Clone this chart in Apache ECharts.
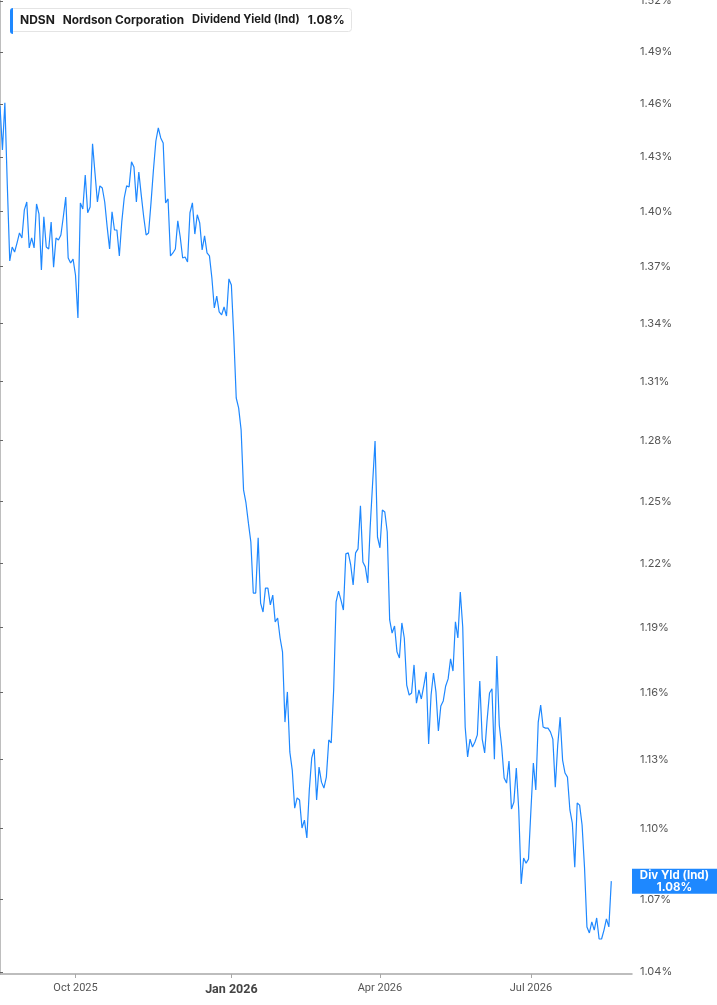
<!DOCTYPE html>
<html>
<head>
<meta charset="utf-8">
<script src="https://cdn.jsdelivr.net/npm/echarts@6/dist/echarts.min.js"></script>
<style>
  html, body { margin: 0; padding: 0; background: #fff; }
  #chart { width: 717px; height: 1005px; }
</style>
</head>
<body>
<div id="chart"></div>
<script>
// daily dividend yield (%), one value per trading day
const values = [
  1.4590, 1.4340, 1.4606, 1.4145, 1.3731, 1.3806, 1.3779, 1.3828, 1.3882, 1.3855,
  1.4008, 1.4051, 1.3801, 1.3855, 1.3801, 1.4040, 1.3986, 1.3683, 1.3970, 1.3806,
  1.3795, 1.3942, 1.3698, 1.3855, 1.3844, 1.3871, 1.3970, 1.4078, 1.3747, 1.3720,
  1.3741, 1.3656, 1.3429, 1.4046, 1.4013, 1.4200, 1.3992, 1.4024, 1.4374, 1.4211,
  1.4051, 1.4140, 1.4128, 1.4051, 1.3915, 1.3795, 1.3997, 1.3898, 1.3898, 1.3758,
  1.3942, 1.4073, 1.4140, 1.4134, 1.4273, 1.4245, 1.4051, 1.4217, 1.4089, 1.3970,
  1.3871, 1.3882, 1.4046, 1.4228, 1.4390, 1.4464, 1.4407, 1.4379, 1.4046, 1.4068,
  1.3758, 1.3774, 1.3795, 1.3948, 1.3860, 1.3747, 1.3752, 1.3725, 1.3992, 1.4046,
  1.3876, 1.3981, 1.3937, 1.3790, 1.3866, 1.3774, 1.3758, 1.3640, 1.3481, 1.3544,
  1.3460, 1.3445, 1.3486, 1.3439, 1.3635, 1.3603, 1.3330, 1.3015, 1.2964, 1.2854,
  1.2556, 1.2492, 1.2394, 1.2303, 1.2060, 1.2060, 1.2323, 1.2013, 1.1971, 1.2083,
  1.2083, 1.2004, 1.2050, 1.1925, 1.1943, 1.1850, 1.1786, 1.1467, 1.1603, 1.1334,
  1.1254, 1.1088, 1.1132, 1.1123, 1.1002, 1.1036, 1.0959, 1.1167, 1.1308, 1.1347,
  1.1123, 1.1267, 1.1201, 1.1175, 1.1223, 1.1387, 1.1374, 1.1612, 1.2018, 1.2069,
  1.2027, 1.1980, 1.2246, 1.2251, 1.2193, 1.2098, 1.2251, 1.2270, 1.2478, 1.2207,
  1.2184, 1.2108, 1.2375, 1.2590, 1.2798, 1.2327, 1.2275, 1.2458, 1.2448, 1.2351,
  1.1934, 1.1873, 1.1906, 1.1786, 1.1758, 1.1920, 1.1850, 1.1634, 1.1589, 1.1598,
  1.1726, 1.1552, 1.1612, 1.1571, 1.1630, 1.1694, 1.1369, 1.1589, 1.1689, 1.1603,
  1.1427, 1.1539, 1.1562, 1.1630, 1.1662, 1.1754, 1.1698, 1.1925, 1.1850, 1.2065,
  1.1901, 1.1445, 1.1312, 1.1391, 1.1356, 1.1378, 1.1410, 1.1652, 1.1391, 1.1330,
  1.1476, 1.1598, 1.1617, 1.1302, 1.1767, 1.1454, 1.1356, 1.1219, 1.1197, 1.1294,
  1.1084, 1.1114, 1.1263, 1.1080, 1.0764, 1.0874, 1.0852, 1.0869, 1.1080, 1.1285,
  1.1167, 1.1467, 1.1543, 1.1445, 1.1440, 1.1440, 1.1423, 1.1391, 1.1179, 1.1365,
  1.1489, 1.1298, 1.1241, 1.1223, 1.1080, 1.1023, 1.0835, 1.1110, 1.1101, 1.1015,
  1.0835, 1.0585, 1.0560, 1.0606, 1.0572, 1.0622, 1.0535, 1.0535, 1.0572, 1.0618,
  1.0585, 1.0776
];

// x axis: trading-day slots, quarter labels at these slots
const quarterLabels = ['Oct 2025', 'Jan 2026', 'Apr 2026', 'Jul 2026'];
const quarterIdx = [31, 95, 156, 218];
const yearStart = 'Jan 2026';
const slotCount = 259.5;

// y axis (log scale) tick labels, in %
const yTicks = [1.04, 1.07, 1.10, 1.13, 1.16, 1.19, 1.22, 1.25, 1.28, 1.31,
                1.34, 1.37, 1.40, 1.43, 1.46, 1.49, 1.52];
const yMin = 1.0392, yMax = 1.5205;

const blue = '#1e88ff';
const last = values[values.length - 1];
const lastText = last.toFixed(2) + '%';

const chart = echarts.init(document.getElementById('chart'), null, { renderer: 'canvas' });

chart.setOption({
  animation: false,
  backgroundColor: '#fff',
  grid: { left: 0, right: 85, top: 0, bottom: 31, containLabel: false, outerBoundsMode: 'none' },
  title: {
    left: 10,
    top: 8,
    text: '{a|NDSN}{b|Nordson Corporation}{c|Dividend Yield (Ind)}{d|' + lastText + '}',
    backgroundColor: '#fff',
    borderColor: '#e4e4e4',
    borderWidth: 1,
    borderRadius: 3,
    padding: [6, 7, 6, 10],
    textStyle: {
      rich: {
        a: { fontFamily: 'Inter', fontSize: 12, fontWeight: 'bold', color: '#1c1c1c' },
        b: { fontFamily: 'Inter', fontSize: 11.8, fontWeight: 'bold', color: '#1c1c1c', padding: [0, 0, 0, 8] },
        c: { fontFamily: 'Inter', fontSize: 11.2, color: '#1c1c1c', padding: [0, 0, 0, 8] },
        d: { fontFamily: 'Inter', fontSize: 12, fontWeight: 'bold', color: '#1c1c1c', padding: [0, 0, 0, 8] }
      }
    }
  },
  xAxis: {
    type: 'value',
    min: 0,
    max: slotCount,
    splitLine: { show: false },
    axisLine: { show: true, lineStyle: { color: '#a8a8a8', width: 1.5 } },
    axisTick: { show: true, length: 4, lineStyle: { color: '#a8a8a8' }, customValues: quarterIdx },
    axisLabel: {
      customValues: quarterIdx,
      margin: 9,
      fontFamily: 'Roboto',
      fontSize: 11,
      color: '#555',
      formatter: function (v) {
        const lbl = quarterLabels[quarterIdx.indexOf(Math.round(v))] || '';
        return lbl === yearStart ? '{y|' + lbl + '}' : lbl;
      },
      rich: { y: { fontFamily: 'Roboto', fontSize: 12.5, fontWeight: 'bold', color: '#444' } }
    }
  },
  yAxis: {
    type: 'value',
    position: 'right',
    min: Math.log(yMin),
    max: Math.log(yMax),
    splitLine: { show: false },
    axisLine: { show: true, lineStyle: { color: '#a8a8a8', width: 1.5 } },
    axisTick: { show: true, length: 3, lineStyle: { color: '#666' }, customValues: yTicks.map(Math.log) },
    axisLabel: {
      customValues: yTicks.map(Math.log),
      margin: 8,
      fontFamily: 'Inter',
      fontSize: 11,
      color: '#555',
      formatter: function (v) { return Math.exp(v).toFixed(2) + '%'; }
    }
  },
  series: [{
    type: 'line',
    data: values.map(function (v, i) { return [i, Math.log(v)]; }),
    showSymbol: false,
    smooth: false,
    lineStyle: { color: blue, width: 1.2 }
  }]
});

// header accent bar + last-value tag on the y axis, placed through the chart's own scales
const py = chart.convertToPixel({ yAxisIndex: 0 }, Math.log(last));
const px = chart.convertToPixel({ xAxisIndex: 0 }, slotCount);
const tagW = chart.getWidth() - px;
const txt = { fill: '#fff', fontFamily: 'Inter', fontWeight: 'bold', fontSize: 11.5, align: 'center', verticalAlign: 'middle' };

chart.setOption({
  graphic: [
    { type: 'rect', z: 100, shape: { x: 10, y: 8, width: 3, height: 26, r: [3, 0, 0, 3] }, style: { fill: blue } },
    { type: 'rect', z: 100, shape: { x: px, y: py - 12.5, width: tagW, height: 25 }, style: { fill: blue } },
    { type: 'text', z: 101, x: px + tagW / 2, y: py - 5.5, style: Object.assign({ text: 'Div Yld (Ind)' }, txt) },
    { type: 'text', z: 101, x: px + tagW / 2, y: py + 6, style: Object.assign({ text: lastText }, txt) }
  ]
});
</script>
</body>
</html>
